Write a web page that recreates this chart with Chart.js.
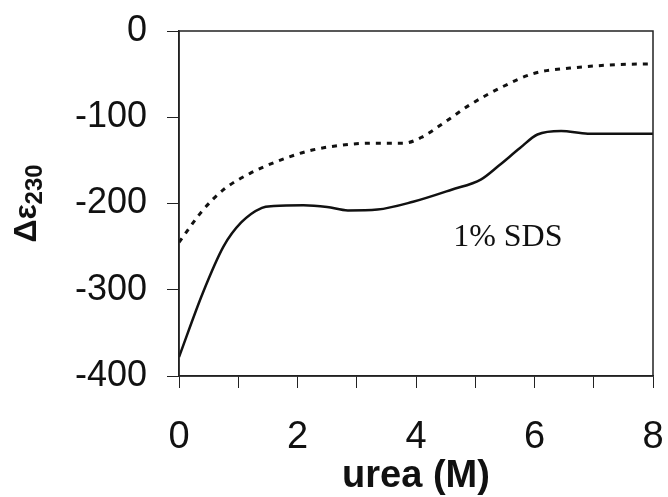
<!DOCTYPE html>
<html>
<head>
<meta charset="utf-8">
<script src="https://cdn.jsdelivr.net/npm/chart.js@4/dist/chart.umd.min.js"></script>
<style>
  html, body { margin: 0; padding: 0; background: #fff; }
  #wrap { width: 668px; height: 497px; }
</style>
</head>
<body>
<div id="wrap"><canvas id="ureaChart"></canvas></div>
<script>
// 1% SDS, solid trace
const solidUrea = [0, 0.4, 0.75, 1.05, 1.4, 1.6, 2.1, 2.5, 2.85, 3.35, 3.95, 4.6, 5.1, 5.4, 5.75, 6.05, 6.45, 6.9, 7.5, 8];
const solidEps = [-378, -304, -250, -222, -205, -203, -202, -204, -208, -207, -198, -184, -172, -156, -136, -120, -116, -119, -119, -119];

// dotted trace
const dottedUrea = [0, 0.4, 0.75, 1.2, 1.7, 2.25, 2.95, 3.4, 3.8, 4.1, 4.5, 4.9, 5.45, 6.0, 6.6, 7.4, 8];
const dottedEps = [-245, -208, -184, -165, -150, -138, -131, -130, -130, -123, -105, -86, -65, -49, -43, -39, -38];

const xLabels = ['0', '2', '4', '6', '8'];
const yLabels = ['0', '-100', '-200', '-300', '-400'];
const noteText = '1% SDS';

function toPoints(xs, ys) {
    return xs.map((x, i) => ({ x: x, y: ys[i] }));
}

// frame round the plot + y title with subscript + note text
const extras = {
    id: 'extras',
    afterDraw(chart) {
        const { ctx, chartArea: a, scales } = chart;
        ctx.save();
        ctx.strokeStyle = '#222';
        ctx.lineWidth = 1.5;
        ctx.strokeRect(a.left, a.top, a.right - a.left, a.bottom - a.top);

        // note
        ctx.fillStyle = '#111';
        ctx.font = '32px "Liberation Serif", "Times New Roman", serif';
        ctx.textAlign = 'center';
        ctx.textBaseline = 'middle';
        ctx.fillText(noteText, scales.x.getPixelForValue(5.55), scales.y.getPixelForValue(-239));

        // y title: Δε with 230 subscript
        ctx.translate(28, (a.top + a.bottom) / 2);
        ctx.rotate(-Math.PI / 2);
        const big = 'bold 32px "Liberation Sans", Arial, sans-serif';
        const small = 'bold 24px "Liberation Sans", Arial, sans-serif';
        ctx.font = big;
        const w1 = ctx.measureText('Δε').width;
        ctx.font = small;
        const w2 = ctx.measureText('230').width;
        const start = -(w1 + w2) / 2;
        ctx.textAlign = 'left';
        ctx.textBaseline = 'alphabetic';
        ctx.font = big;
        ctx.fillText('Δε', start, 8);
        ctx.font = small;
        ctx.fillText('230', start + w1, 14);
        ctx.restore();
    }
};

new Chart(document.getElementById('ureaChart'), {
    type: 'line',
    data: {
        datasets: [{
            label: 'solid',
            data: toPoints(solidUrea, solidEps),
            borderColor: '#111',
            borderWidth: 2.5,
            pointRadius: 0,
            cubicInterpolationMode: 'monotone',
            fill: false
        }, {
            label: 'dotted',
            data: toPoints(dottedUrea, dottedEps),
            borderColor: '#111',
            borderWidth: 3,
            borderDash: [5, 6],
            pointRadius: 0,
            cubicInterpolationMode: 'monotone',
            fill: false
        }]
    },
    options: {
        responsive: true,
        maintainAspectRatio: false,
        animation: false,
        layout: { padding: { left: 0, top: 31, right: 15, bottom: 0 } },
        plugins: {
            legend: { display: false },
            tooltip: { enabled: false }
        },
        scales: {
            x: {
                type: 'linear',
                min: 0,
                max: 8,
                afterFit: (scale) => {
                    scale.height = 121;
                    scale.paddingLeft = 0;
                    scale.paddingRight = 0;
                },
                border: { display: true, color: '#222', width: 1.5 },
                grid: { drawOnChartArea: false, drawTicks: true, tickLength: 12, color: '#222', lineWidth: 1 },
                ticks: {
                    stepSize: 1,
                    padding: 27,
                    color: '#111',
                    font: { family: '"Liberation Sans", Arial, sans-serif', size: 38 },
                    maxRotation: 0,
                    callback: (v) => (v % 2 === 0 ? xLabels[v / 2] : '')
                },
                title: {
                    display: true,
                    text: 'urea (M)',
                    color: '#111',
                    font: { family: '"Liberation Sans", Arial, sans-serif', size: 38, weight: 'bold' },
                    padding: { top: 0, bottom: -2 }
                }
            },
            y: {
                min: -400,
                max: 0,
                afterFit: (scale) => {
                    scale.width = 179;
                    scale.paddingTop = 0;
                    scale.paddingBottom = 0;
                },
                border: { display: true, color: '#222', width: 1.5 },
                grid: { drawOnChartArea: false, drawTicks: true, tickLength: 12, color: '#222', lineWidth: 1 },
                ticks: {
                    stepSize: 100,
                    padding: 20,
                    color: '#111',
                    font: { family: '"Liberation Sans", Arial, sans-serif', size: 36 },
                    callback: (v) => yLabels[Math.round(-v / 100)]
                }
            }
        }
    },
    plugins: [extras]
});
</script>
</body>
</html>
